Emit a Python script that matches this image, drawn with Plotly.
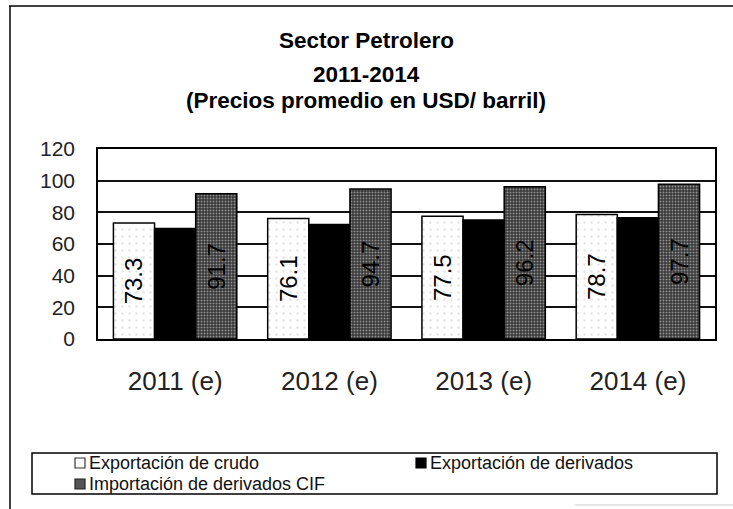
import plotly.graph_objects as go

categories = ["2011 (e)", "2012 (e)", "2013 (e)", "2014 (e)"]
crudo = [73.3, 76.1, 77.5, 78.7]
derivados = [69.8, 72.3, 75.2, 76.6]
importacion = [91.7, 94.7, 96.2, 97.7]
series_names = ["Exportación de crudo", "Exportación de derivados", "Importación de derivados CIF"]
y_ticks = [0, 20, 40, 60, 80, 100, 120]

W, H = 733, 509
L, R, T, B = 98, 18, 149, 170
PW, PH = W - L - R, H - T - B


def px(x):
    return (x - L) / PW


def py(y):
    return (H - B - y) / PH


FONT = "Liberation Sans, Arial, sans-serif"

crudo_marker = dict(color="white", line=dict(color="black", width=1.5),
                    pattern=dict(shape=".", fgcolor="#c8c8c8", bgcolor="white", size=7, solidity=0.1))
deriv_marker = dict(color="black", line=dict(color="black", width=1.5))
imp_marker = dict(color="#3c3c3c", line=dict(color="black", width=1.5),
                  pattern=dict(shape=".", fgcolor="#e8e8e8", bgcolor="#363636", size=3, solidity=0.35))

fig = go.Figure()
fig.add_trace(go.Bar(name=series_names[0], x=categories, y=crudo,
                     text=[f"{v:.1f}" for v in crudo], marker=crudo_marker))
fig.add_trace(go.Bar(name=series_names[1], x=categories, y=derivados, marker=deriv_marker))
fig.add_trace(go.Bar(name=series_names[2], x=categories, y=importacion,
                     text=[f"{v:.1f}" for v in importacion], marker=imp_marker))
fig.update_traces(textposition="inside", insidetextanchor="middle", textangle=-90,
                  textfont=dict(family=FONT, size=24, color="black"))

fig.update_layout(
    width=W, height=H,
    margin=dict(l=L, r=R, t=T, b=B, autoexpand=False),
    paper_bgcolor="white", plot_bgcolor="white",
    barmode="group", bargap=0.2, bargroupgap=0,
    font=dict(family=FONT, color="black"),
    showlegend=False,
    xaxis=dict(range=[-0.5, 3.5], showgrid=False, ticks="", showline=True, linecolor="black",
               linewidth=1.5, mirror=True, tickfont=dict(family=FONT, size=26, color="#222"),
               ticklabelstandoff=18, fixedrange=True),
    yaxis=dict(range=[0, 120], tickvals=y_ticks, ticktext=[str(v) for v in y_ticks],
               showgrid=True, gridcolor="#111", gridwidth=1.5, showline=True, linecolor="black",
               linewidth=1.5, mirror=True, ticks="", tickfont=dict(family=FONT, size=21, color="#222"),
               ticklabelstandoff=17, zeroline=False, fixedrange=True),
)

titles = [("<b>Sector Petrolero</b>", 40), ("<b>2011-2014</b>", 74), ("<b>(Precios promedio en USD/ barril)</b>", 100)]
for txt, ypix in titles:
    fig.add_annotation(text=txt, xref="paper", yref="paper", x=px(366), y=py(ypix),
                       xanchor="center", yanchor="middle", showarrow=False,
                       font=dict(family=FONT, size=22.5, color="black"))

# legend (box, swatches and labels)
fig.add_shape(type="rect", xref="paper", yref="paper", x0=px(32), x1=px(717), y0=py(494), y1=py(453),
              line=dict(color="black", width=1.5))
legend_items = [(series_names[0], 75, 463, "white", "#333"),
                (series_names[1], 416, 463, "black", "black"),
                (series_names[2], 75, 484, "#555555", "#222")]
for name, lx, ly, fill, edge in legend_items:
    fig.add_shape(type="rect", xref="paper", yref="paper", x0=px(lx), x1=px(lx + 10),
                  y0=py(ly + 5), y1=py(ly - 5), fillcolor=fill, line=dict(color=edge, width=1.2))
    fig.add_annotation(text=name, xref="paper", yref="paper", x=px(lx + 12), y=py(ly),
                       xanchor="left", yanchor="middle", showarrow=False,
                       font=dict(family=FONT, size=18, color="#111"))

# outer chart border
fig.add_shape(type="line", xref="paper", yref="paper", x0=px(9), x1=px(733), y0=py(6), y1=py(6),
              line=dict(color="black", width=1.5))
fig.add_shape(type="line", xref="paper", yref="paper", x0=px(10), x1=px(10), y0=py(6), y1=py(509),
              line=dict(color="black", width=1.5))
fig.add_shape(type="line", xref="paper", yref="paper", x0=px(575), x1=px(733), y0=py(505), y1=py(505),
              line=dict(color="#cccccc", width=1))

fig.write_html("out.html", config={"displayModeBar": False},
               post_script="document.body.style.margin='0px';")
